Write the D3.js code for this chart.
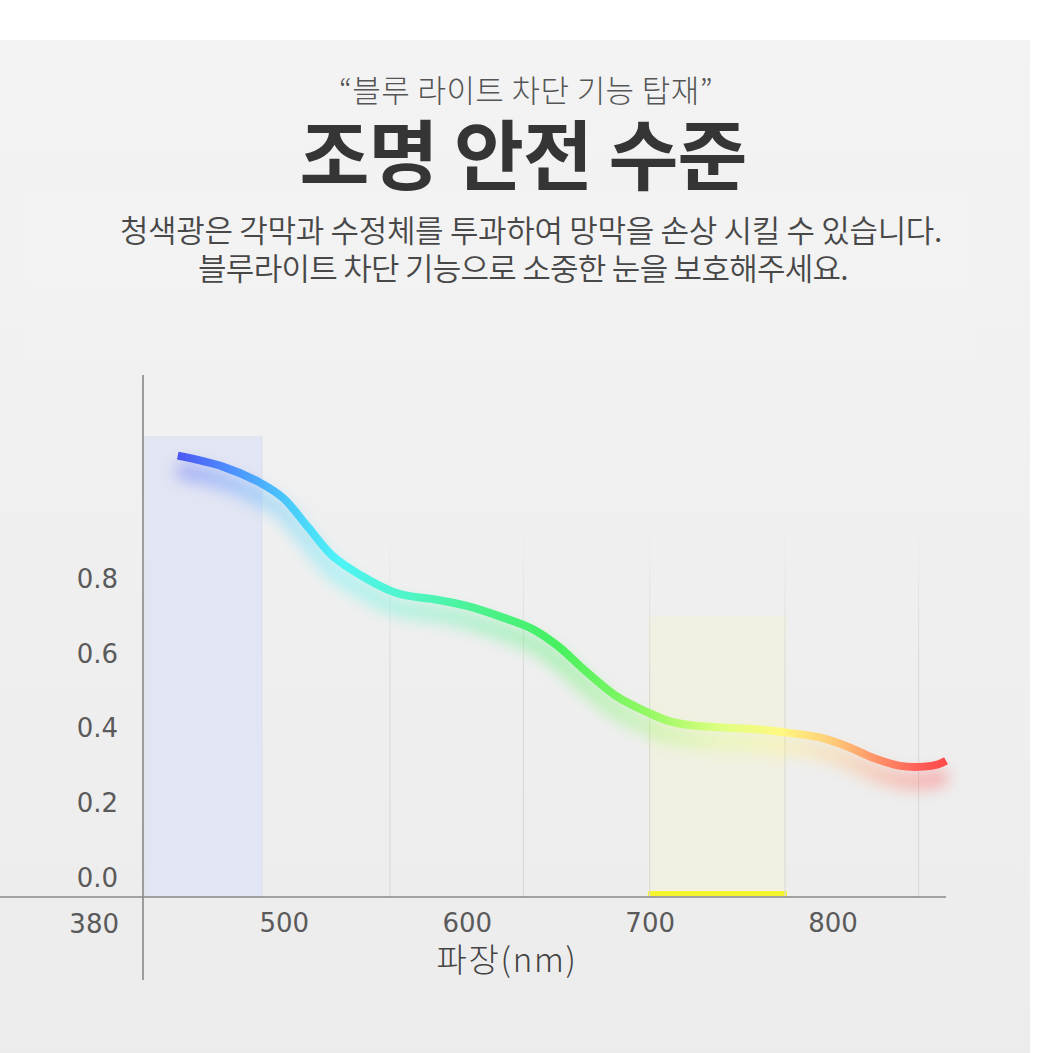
<!DOCTYPE html>
<html><head><meta charset="utf-8">
<script src="https://cdn.jsdelivr.net/npm/d3@7"></script>
<style>
html,body{margin:0;padding:0;background:#fff;}
svg{display:block;}
</style></head>
<body>
<svg id="c" width="1053" height="1053"></svg>
<script>
// ---- data ----
const subtitle = "“블루 라이트 차단 기능 탑재”";
const title = "조명 안전 수준";
const descLines = ["청색광은 각막과 수정체를 투과하여 망막을 손상 시킬 수 있습니다.", "블루라이트 차단 기능으로 소중한 눈을 보호해주세요."];
const xAxisTitle = "파장(nm)";
const originLabel = "380";
const xTicks = [500, 600, 700, 800];
const yTicks = [0, 0.2, 0.4, 0.6, 0.8];
const wavelengths = [442, 467, 488, 500, 513, 527, 542, 560, 569, 582, 600, 618, 636, 650, 664, 682, 699, 711, 724, 742, 761, 775, 793, 808, 822, 837, 850, 857, 862];
const values      = [1.13, 1.10, 1.055, 1.015, 0.94, 0.86, 0.81, 0.765, 0.754, 0.746, 0.728, 0.70, 0.666, 0.62, 0.558, 0.486, 0.443, 0.419, 0.408, 0.402, 0.397, 0.389, 0.376, 0.352, 0.322, 0.30, 0.298, 0.303, 0.314];
const blueBand = [423, 488, 1.18];
const yellowBand = [699, 775, 0.70];
const gridNm = [558, 631, 700, 774, 847];
const colorStops = [[442,"#4b57f2"],[470,"#4d8dff"],[500,"#49c6fb"],[530,"#4ef3f7"],[570,"#4ff5c4"],[610,"#4af28a"],[650,"#46f05e"],[700,"#96f864"],[740,"#e0ff82"],[772,"#fff880"],[800,"#ffcb78"],[825,"#ff9068"],[848,"#ff5d57"],[862,"#ff4a4a"]];

// ---- layout ----
const svg = d3.select("#c");
const x = d3.scaleLinear().domain([423, 862]).range([143, 946]);
const y = d3.scaleLinear().domain([0, 0.8]).range([878, 579]);
const axisY = 897;

const defs = svg.append("defs");
const bg = defs.append("linearGradient").attr("id","bg").attr("x1",0).attr("y1",0).attr("x2",0).attr("y2",1);
bg.append("stop").attr("offset","0%").attr("stop-color","#f3f3f3");
bg.append("stop").attr("offset","100%").attr("stop-color","#ececec");

svg.append("rect").attr("x",0).attr("y",40).attr("width",1030).attr("height",1013).attr("fill","url(#bg)");
svg.append("rect").attr("x",25).attr("y",195).attr("width",945).attr("height",165).attr("fill","#f6f6f6").attr("opacity",0.25);

// texts
const kr = "'Noto Sans CJK KR', 'Noto Sans', sans-serif";
function fitText(sel, target){
  const n = sel.text().length;
  const w = sel.node().getComputedTextLength();
  sel.attr("letter-spacing", ((target - w)/n).toFixed(2));
}
const t1 = svg.append("text").attr("x",526).attr("y",102).attr("text-anchor","middle")
  .attr("font-family",kr).attr("font-weight",300).attr("font-size",31).attr("fill","#555").text(subtitle);
fitText(t1, 374);
const t2 = svg.append("text").attr("x",523).attr("y",184).attr("text-anchor","middle")
  .attr("font-family",kr).attr("font-weight",700).attr("font-size",76).attr("fill","#353535").text(title);
fitText(t2, 447);
const dl = [[531,242,822],[523,280,650]];
descLines.forEach((s,i)=>{
  const t = svg.append("text").attr("x",dl[i][0]).attr("y",dl[i][1]).attr("text-anchor","middle")
    .attr("font-family",kr).attr("font-weight",350).attr("font-size",31).attr("fill","#484848").text(s);
  fitText(t, dl[i][2]);
});

// bands
svg.append("rect").attr("x",x(blueBand[0])+2).attr("y",y(blueBand[2]))
  .attr("width",x(blueBand[1])-x(blueBand[0])-2).attr("height",axisY-y(blueBand[2]))
  .attr("fill","#e2e5f3").attr("stroke","#dcdfeb").attr("stroke-width",1);
svg.append("rect").attr("x",x(yellowBand[0])).attr("y",y(yellowBand[2]))
  .attr("width",x(yellowBand[1])-x(yellowBand[0])).attr("height",axisY-y(yellowBand[2]))
  .attr("fill","#f1f0e2");
svg.append("rect").attr("x",x(yellowBand[0])).attr("y",axisY-6)
  .attr("width",x(yellowBand[1])-x(yellowBand[0])).attr("height",5)
  .attr("fill","#f4f52e");

// gridlines (fading upward)
const gg = defs.append("linearGradient").attr("id","gridfade").attr("gradientUnits","userSpaceOnUse")
  .attr("x1",0).attr("y1",520).attr("x2",0).attr("y2",680);
gg.append("stop").attr("offset","0%").attr("stop-color","#dadada").attr("stop-opacity",0);
gg.append("stop").attr("offset","100%").attr("stop-color","#dadada").attr("stop-opacity",1);
svg.append("g").selectAll("line").data(gridNm).join("line")
  .attr("x1",d=>x(d)).attr("x2",d=>x(d)).attr("y1",520).attr("y2",axisY)
  .attr("stroke","url(#gridfade)").attr("stroke-width",1.2);

// axes lines
svg.append("line").attr("x1",0).attr("x2",x(862)).attr("y1",axisY).attr("y2",axisY).attr("stroke","#888").attr("stroke-width",1.6);
svg.append("line").attr("x1",143).attr("x2",143).attr("y1",375).attr("y2",980).attr("stroke","#888").attr("stroke-width",1.6);

const numFont = "'DejaVu Sans', 'Liberation Sans', sans-serif";
// y axis labels
const ya = svg.append("g").attr("transform","translate(143,0)")
  .call(d3.axisLeft(y).tickValues(yTicks).tickFormat(d3.format(".1f")).tickSize(0).tickPadding(25));
ya.select(".domain").remove();
ya.selectAll("text").attr("font-family",numFont).attr("font-size",26).attr("fill","#5a5a5a");

// x axis labels
const xa = svg.append("g").attr("transform",`translate(0,${axisY})`)
  .call(d3.axisBottom(x).tickValues(xTicks).tickFormat(d3.format("d")).tickSize(0).tickPadding(17));
xa.select(".domain").remove();
xa.selectAll("text").attr("font-family",numFont).attr("font-size",26).attr("fill","#5a5a5a");
svg.append("text").attr("x",119).attr("y",933).attr("text-anchor","end")
  .attr("font-family",numFont).attr("font-size",26).attr("fill","#5a5a5a").text(originLabel);

const xt = svg.append("text").attr("x",507).attr("y",972).attr("text-anchor","middle")
  .attr("font-family",kr).attr("font-weight",300).attr("font-size",33).attr("fill","#444").text(xAxisTitle);
fitText(xt, 141);

// curve gradient
const cg = defs.append("linearGradient").attr("id","curvegrad").attr("gradientUnits","userSpaceOnUse")
  .attr("x1",x(wavelengths[0])).attr("y1",0).attr("x2",x(wavelengths[wavelengths.length-1])).attr("y2",0);
const x0 = wavelengths[0], x1 = wavelengths[wavelengths.length-1];
colorStops.forEach(([nm,c])=>{
  cg.append("stop").attr("offset",((nm-x0)/(x1-x0)*100).toFixed(2)+"%").attr("stop-color",c);
});
const blur = defs.append("filter").attr("id","glow").attr("x","-20%").attr("y","-50%").attr("width","140%").attr("height","200%");
blur.append("feGaussianBlur").attr("stdDeviation",8);

const pts = wavelengths.map((w,i)=>[w, values[i]]);
const line = d3.line().x(d=>x(d[0])).y(d=>y(d[1])).curve(d3.curveCatmullRom.alpha(0.5));

svg.append("path").attr("d",line(pts)).attr("fill","none")
  .attr("stroke","url(#curvegrad)").attr("stroke-width",15).attr("opacity",0.45)
  .attr("transform","translate(0,14)").attr("filter","url(#glow)");
svg.append("path").attr("d",line(pts)).attr("fill","none")
  .attr("stroke","url(#curvegrad)").attr("stroke-width",8).attr("stroke-linecap","butt");
</script>
</body></html>
